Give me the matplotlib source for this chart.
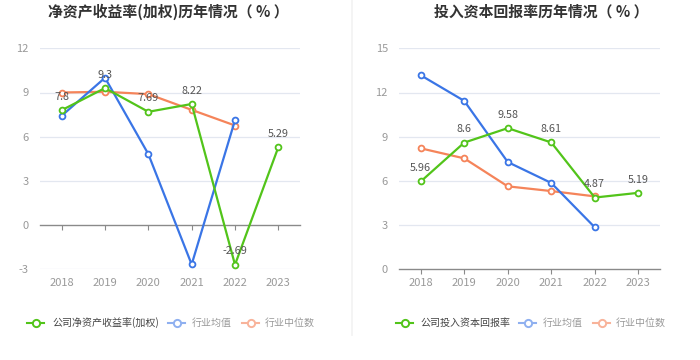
import matplotlib
matplotlib.use("Agg")
import matplotlib.pyplot as plt
from matplotlib.lines import Line2D

plt.rcParams['font.family'] = ['Noto Sans CJK SC', 'DejaVu Sans']

years = ["2018", "2019", "2020", "2021", "2022", "2023"]

roe_company = [7.8, 9.3, 7.69, 8.22, -2.69, 5.29]
roe_mean = [7.42, 10.0, 4.82, -2.67, 7.12, None]
roe_median = [9.0, 9.05, 8.89, 7.82, 6.76, None]

roic_company = [5.96, 8.6, 9.58, 8.61, 4.87, 5.19]
roic_mean = [13.17, 11.43, 7.28, 5.86, 2.85, None]
roic_median = [8.21, 7.53, 5.63, 5.31, 4.95, None]

titles = ["净资产收益率(加权)历年情况（ % ）", "投入资本回报率历年情况（ % ）"]
legend_left = ["公司净资产收益率(加权)", "行业均值", "行业中位数"]
legend_right = ["公司投入资本回报率", "行业均值", "行业中位数"]

GREEN = "#52c41a"
BLUE = "#3a75e6"
ORANGE = "#f5845a"
BLUE_L = "#8fb0f0"
ORANGE_L = "#f8b39a"

W, H = 700, 360
fig = plt.figure(figsize=(W / 100, H / 100), dpi=100)


def px(x0, y0, w, h):
    return [x0 / W, 1 - (y0 + h) / H, w / W, h / H]


def draw(ax, comp, mean, med, ylim, yticks, title, tcx):
    xs = list(range(len(years)))
    for vals, col in ((med, ORANGE), (mean, BLUE), (comp, GREEN)):
        pts = [(x, v) for x, v in zip(xs, vals) if v is not None]
        ax.plot([p[0] for p in pts], [p[1] for p in pts], color=col, lw=1.6,
                marker='o', ms=4.2, mfc='white', mec=col, mew=1.3, zorder=3)
    for x, v in zip(xs, comp):
        ax.annotate(f"{v:g}", (x, v), xytext=(0, 6), textcoords='offset points',
                    ha='center', va='bottom', fontsize=7.8, color='#555555',
                    zorder=5)
    ax.set_xlim(-0.5, len(years) - 0.5)
    ax.set_ylim(*ylim)
    ax.set_yticks(yticks)
    ax.set_yticklabels([f"{t:g}" for t in yticks])
    for t in yticks:
        if t != 0:
            ax.axhline(t, color='#e3e7f0', lw=0.9, zorder=0)
    for s in ('top', 'right', 'left'):
        ax.spines[s].set_visible(False)
    ax.spines['bottom'].set_position(('data', 0))
    ax.spines['bottom'].set_color('#8a8a8a')
    ax.spines['bottom'].set_linewidth(1.0)
    ax.set_xticks(xs)
    ax.set_xticklabels(years)
    bottom_gap_pt = (0 - ylim[0]) / (ylim[1] - ylim[0]) * 221 * 0.72
    ax.tick_params(axis='x', length=3.5, width=0.8, color='#8a8a8a',
                   labelsize=8, labelcolor='#999999', pad=3 + bottom_gap_pt)
    ax.tick_params(axis='y', length=0, labelsize=8, labelcolor='#999999', pad=8)
    fig.text(tcx / W, 1 - 12 / H, title, ha='center', va='center',
             fontsize=10.7, fontweight='bold', color='#333333')


axL = fig.add_axes(px(40, 48.3, 260, 221))
draw(axL, roe_company, roe_mean, roe_median, (-3, 12), [-3, 0, 3, 6, 9, 12],
     titles[0], 168)
axR = fig.add_axes(px(399, 48.3, 261, 221))
draw(axR, roic_company, roic_mean, roic_median, (0, 15), [0, 3, 6, 9, 12, 15],
     titles[1], 541)

# divider
fig.add_artist(Line2D([352 / W, 352 / W], [1 - 335 / H, 1.0], color='#f2f2f2',
                      lw=1.2, transform=fig.transFigure))


def legend(items):
    y = 1 - 323 / H
    for (lx0, tx, label, col, tcol) in items:
        fig.add_artist(Line2D([lx0 / W, (lx0 + 17) / W], [y, y], color=col,
                              lw=1.5, transform=fig.transFigure))
        fig.add_artist(Line2D([(lx0 + 8.5) / W], [y], color=col, marker='o',
                              ms=5.2, mfc='white', mec=col, mew=1.4,
                              transform=fig.transFigure))
        fig.text(tx / W, y, label, ha='left', va='center', fontsize=7.2,
                 color=tcol)


legend([(27, 52, legend_left[0], GREEN, '#444444'),
        (168, 192, legend_left[1], BLUE_L, '#999999'),
        (242, 265, legend_left[2], ORANGE_L, '#999999')])
legend([(396, 420, legend_right[0], GREEN, '#444444'),
        (519, 543, legend_right[1], BLUE_L, '#999999'),
        (593, 616, legend_right[2], ORANGE_L, '#999999')])

fig.savefig("out.png", dpi=100)
